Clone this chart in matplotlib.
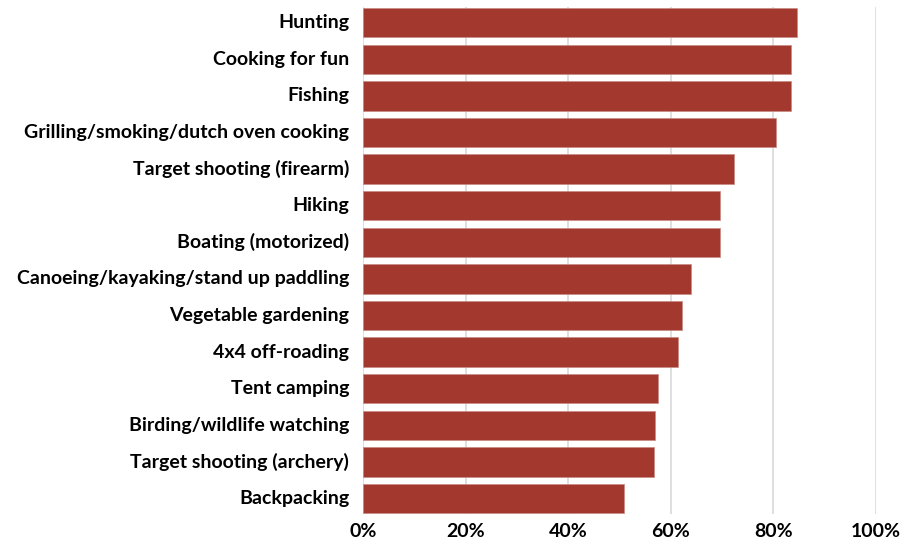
"""Horizontal bar chart of outdoor activity participation shares."""
import matplotlib

matplotlib.use("Agg")

import matplotlib.pyplot as plt  # noqa: E402
from matplotlib.ticker import FuncFormatter  # noqa: E402

ACTIVITIES = [
    "Hunting",
    "Cooking for fun",
    "Fishing",
    "Grilling/smoking/dutch oven cooking",
    "Target shooting (firearm)",
    "Hiking",
    "Boating (motorized)",
    "Canoeing/kayaking/stand up paddling",
    "Vegetable gardening",
    "4x4 off-roading",
    "Tent camping",
    "Birding/wildlife watching",
    "Target shooting (archery)",
    "Backpacking",
]
SHARES = [84.6, 83.4, 83.4, 80.5, 72.3, 69.6, 69.6,
          63.9, 62.2, 61.4, 57.5, 56.9, 56.7, 50.9]
X_TICKS = [0, 20, 40, 60, 80, 100]

BAR_COLOR = "#A2382E"
GRID_COLOR = "#d9d9d9"

plt.rcParams["font.family"] = ["Lato", "DejaVu Sans"]
plt.rcParams["font.weight"] = "bold"

fig = plt.figure(figsize=(9.17, 5.39), dpi=100)
ax = fig.add_axes([0.396, 0.046, 0.559, 0.941])

ypos = list(range(len(ACTIVITIES)))
ax.barh(ypos, SHARES, height=0.8, color=BAR_COLOR,
        edgecolor="#c98a84", linewidth=0.5, zorder=3)

ax.set_xlim(0, 100)
ax.set_ylim(len(ACTIVITIES) - 1 + 0.43, -0.43)
ax.set_yticks(ypos)
ax.set_yticklabels(ACTIVITIES, fontsize=14, fontweight="bold")
ax.set_xticks(X_TICKS)
ax.xaxis.set_major_formatter(FuncFormatter(lambda v, _: f"{v:.0f}%"))
for lbl in ax.get_xticklabels():
    lbl.set_fontsize(14)
    lbl.set_fontweight("bold")

ax.tick_params(axis="y", length=0, pad=10)
ax.tick_params(axis="x", length=0, pad=6)
for lbl in ax.get_yticklabels():
    lbl.set_verticalalignment("center")
ax.grid(axis="x", color=GRID_COLOR, linewidth=1.2, zorder=0)
for sp in ax.spines.values():
    sp.set_visible(False)

fig.savefig("out.png", dpi=100, facecolor="white")
plt.close(fig)
